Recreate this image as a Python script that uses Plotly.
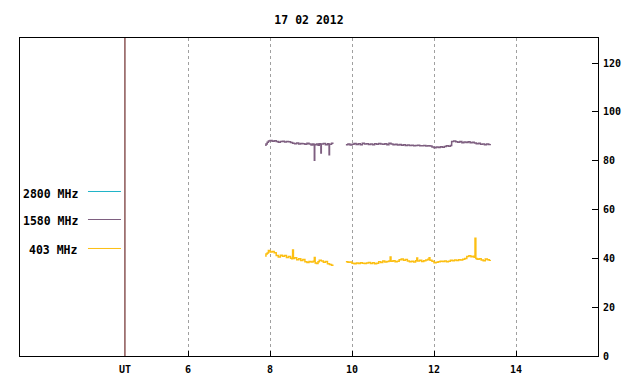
import plotly.graph_objects as go

# ---- data (hours UT, solar flux units) ----
t_1580_a = [7.88, 7.90, 7.93, 7.96, 8.00, 8.05, 8.10, 8.15, 8.20, 8.25, 8.30, 8.35, 8.40, 8.45, 8.50, 8.55,
            8.60, 8.65, 8.70, 8.75, 8.80, 8.85, 8.90, 8.95, 9.00, 9.04, 9.07, 9.08, 9.09, 9.13, 9.17, 9.20,
            9.23, 9.24, 9.25, 9.30, 9.35, 9.40, 9.43, 9.44, 9.45, 9.50, 9.53]
v_1580_a = [86.4, 86.9, 87.6, 88.1, 88.3, 88.0, 88.2, 87.9, 87.6, 87.9, 88.0, 87.7, 87.9, 87.8, 87.5, 87.2,
            87.0, 87.3, 86.9, 87.1, 87.0, 86.8, 87.2, 86.9, 86.5, 86.9, 86.7, 80.2, 86.6, 86.9, 86.4, 87.0,
            86.8, 83.2, 86.9, 87.1, 86.6, 87.0, 86.9, 82.5, 86.8, 87.2, 86.9]
t_1580_b = [9.85, 9.90, 9.95, 10.00, 10.05, 10.10, 10.15, 10.20, 10.25, 10.30, 10.35, 10.40, 10.45, 10.50,
            10.55, 10.60, 10.65, 10.70, 10.75, 10.80, 10.85, 10.90, 10.95, 11.00, 11.05, 11.10, 11.15, 11.20,
            11.25, 11.30, 11.35, 11.40, 11.45, 11.50, 11.55, 11.60, 11.65, 11.70, 11.75, 11.80, 11.85, 11.90,
            11.95, 12.00, 12.05, 12.10, 12.15, 12.20, 12.25, 12.30, 12.35, 12.40, 12.43, 12.48, 12.53, 12.58,
            12.63, 12.68, 12.73, 12.78, 12.83, 12.88, 12.93, 12.98, 13.03, 13.08, 13.13, 13.18, 13.23, 13.28,
            13.33, 13.37]
v_1580_b = [86.6, 86.9, 86.5, 86.8, 87.1, 86.7, 87.0, 86.6, 87.2, 86.9, 87.0, 86.7, 86.9, 86.6,
            87.0, 86.8, 87.1, 86.9, 86.8, 87.0, 86.6, 87.2, 86.9, 86.6, 86.8, 86.5, 86.7, 86.4,
            86.6, 86.3, 86.5, 86.3, 86.4, 86.1, 86.3, 86.4, 86.2, 86.1, 86.3, 86.0, 86.2, 86.0,
            85.6, 85.3, 85.6, 85.4, 85.7, 85.5, 85.8, 86.1, 85.9, 86.3, 87.9, 88.1, 87.8, 87.6,
            87.9, 87.4, 87.7, 87.5, 87.8, 87.4, 87.6, 87.3, 87.0, 87.2, 86.8, 86.9, 86.6, 86.9,
            86.7, 86.9]

t_403_a = [7.88, 7.90, 7.93, 7.96, 8.00, 8.05, 8.10, 8.15, 8.20, 8.25, 8.30, 8.35, 8.40, 8.45, 8.50, 8.53,
           8.55, 8.57, 8.60, 8.65, 8.70, 8.75, 8.80, 8.85, 8.90, 8.95, 9.00, 9.05, 9.08, 9.10, 9.13, 9.17,
           9.20, 9.25, 9.30, 9.35, 9.40, 9.45, 9.50, 9.53]
v_403_a = [41.0, 41.8, 42.2, 43.2, 42.6, 42.8, 42.3, 41.2, 40.6, 41.3, 40.9, 41.2, 40.4, 40.8, 40.1, 39.8,
           43.4, 40.0, 40.3, 39.4, 39.8, 39.1, 39.5, 38.6, 38.3, 38.7, 38.5, 38.8, 40.4, 38.1, 37.9, 38.6,
           39.2, 38.9, 38.4, 38.7, 37.8, 37.5, 37.2, 36.9]
t_403_b = [9.85, 9.90, 9.95, 10.00, 10.05, 10.10, 10.15, 10.20, 10.25, 10.30, 10.35, 10.40, 10.45, 10.50,
           10.55, 10.60, 10.65, 10.70, 10.75, 10.80, 10.85, 10.90, 10.93, 10.95, 11.00, 11.05, 11.10, 11.15,
           11.20, 11.25, 11.30, 11.35, 11.40, 11.45, 11.50, 11.55, 11.58, 11.60, 11.65, 11.70, 11.75, 11.80,
           11.85, 11.88, 11.90, 11.95, 12.00, 12.05, 12.10, 12.15, 12.20, 12.25, 12.30, 12.35, 12.40, 12.45,
           12.50, 12.55, 12.60, 12.65, 12.70, 12.75, 12.80, 12.85, 12.90, 12.95, 12.98, 13.00, 13.02, 13.05,
           13.10, 13.15, 13.20, 13.25, 13.30, 13.35, 13.37]
v_403_b = [38.6, 38.4, 38.5, 38.0, 37.8, 38.1, 37.9, 38.2, 38.0, 37.9, 38.1, 38.3, 37.9, 38.2,
           37.8, 38.0, 38.6, 38.3, 38.9, 38.5, 38.7, 38.9, 40.6, 38.8, 39.0, 38.6, 38.8, 39.4,
           39.7, 39.2, 39.5, 38.9, 38.6, 38.8, 38.5, 39.0, 40.2, 38.9, 39.2, 38.7, 39.0, 39.3,
           39.6, 40.3, 39.2, 38.8, 38.2, 38.4, 38.6, 38.8, 38.7, 38.9, 38.6, 38.8, 39.2, 39.0,
           39.3, 39.1, 39.4, 39.3, 39.6, 40.0, 40.8, 41.1, 40.7, 40.9, 40.5, 48.2, 40.0, 39.6,
           39.8, 39.3, 39.0, 39.7, 39.4, 39.2, 39.3]

x_tick_vals = [6, 8, 10, 12, 14]
x_tick_text = ["6", "8", "10", "12", "14"]
y_tick_vals = [0, 20, 40, 60, 80, 100, 120]
legend_names = ["2800 MHz", "1580 MHz", "403 MHz"]
legend_colors = ["#1fb4c8", "#7e5f80", "#fcbf12"]
title_text = "17 02 2012"
ut_label = "UT"
ut_hour = 4.46

FONT = "DejaVu Sans Mono"
BIG = 11.5
SMALL = 10

fig = go.Figure()
for tx, vy in [(t_1580_a, v_1580_a), (t_1580_b, v_1580_b)]:
    fig.add_trace(go.Scatter(x=tx, y=vy, mode="lines", line=dict(color=legend_colors[1], width=1.5, shape="hv"),
                             showlegend=False, hoverinfo="skip"))
for tx, vy in [(t_403_a, v_403_a), (t_403_b, v_403_b)]:
    fig.add_trace(go.Scatter(x=tx, y=vy, mode="lines", line=dict(color=legend_colors[2], width=1.5, shape="hv"),
                             showlegend=False, hoverinfo="skip"))

# UT marker line and label
fig.add_shape(type="line", xref="x", yref="paper", x0=ut_hour, x1=ut_hour, y0=0, y1=1,
              line=dict(color="#500000", width=1))
fig.add_annotation(x=ut_hour, y=0, xref="x", yref="paper", yshift=-13, text=ut_label, showarrow=False,
                   xanchor="center", yanchor="middle",
                   font=dict(family=FONT, size=SMALL, color="black", weight="bold"))

# custom legend: text then line sample
leg_text_y = [0.511, 0.423, 0.332]
leg_line_y = [0.5173, 0.4292, 0.3381]
for name, col, ty, ly in zip(legend_names, legend_colors, leg_text_y, leg_line_y):
    fig.add_annotation(x=0.104, y=ty, xref="paper", yref="paper", text=name, showarrow=False,
                       xanchor="right", yanchor="middle",
                       font=dict(family=FONT, size=BIG, color="black", weight="bold"))
    fig.add_shape(type="line", xref="paper", yref="paper", x0=0.1176, x1=0.1747, y0=ly, y1=ly,
                  line=dict(color=col, width=1))

fig.update_layout(
    width=640, height=384,
    margin=dict(l=20, r=42, t=38, b=28, autoexpand=False),
    paper_bgcolor="white", plot_bgcolor="white",
    title=dict(text=title_text, x=0.4828, xanchor="center", y=0.947, yanchor="middle",
               font=dict(family=FONT, size=BIG, color="black", weight="bold")),
    showlegend=False,
    xaxis=dict(range=[1.9, 16.0], tickvals=x_tick_vals, ticktext=x_tick_text, automargin=False,
               ticks="inside", ticklen=5, tickcolor="black", ticklabelstandoff=4,
               showline=True, linecolor="black", linewidth=1, mirror=True,
               showgrid=True, gridcolor="#a0a0a0", griddash="dot", gridwidth=1,
               zeroline=False,
               tickfont=dict(family=FONT, size=SMALL, color="black", weight="bold")),
    yaxis=dict(range=[0, 130.3], side="right", tickvals=y_tick_vals, automargin=False,
               ticks="inside", ticklen=6, tickcolor="black", ticklabelstandoff=2,
               showline=True, linecolor="black", linewidth=1, mirror=True,
               showgrid=False, zeroline=False,
               tickfont=dict(family=FONT, size=SMALL, color="black", weight="bold")),
)

fig.write_html("out.html", config={"displayModeBar": False},
               post_script="document.body.style.margin='0';document.body.style.overflow='hidden';")
